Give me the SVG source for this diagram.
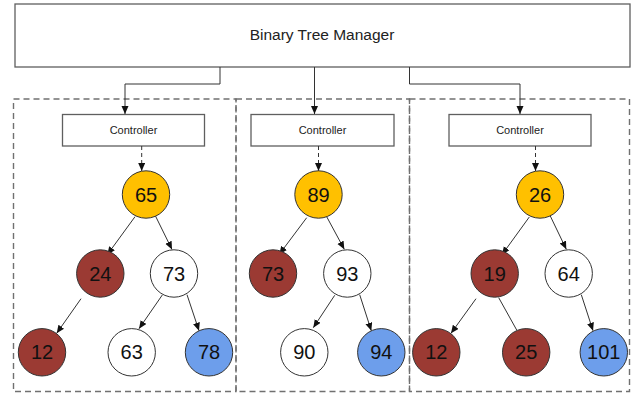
<svg xmlns="http://www.w3.org/2000/svg" width="632" height="396" viewBox="0 0 632 396">
<defs>
<style>
.box{fill:#fff;stroke:#5f5f5f;stroke-width:1.3}
.dash{fill:none;stroke:#707070;stroke-width:1.4;stroke-dasharray:6,4}
.t{font-family:"Liberation Sans",Arial,sans-serif;fill:#222;text-anchor:middle}
.ctl{font-size:11px}
.num{font-size:20px;fill:#111}
.n{stroke:#333;stroke-width:1}
.y{fill:#ffc000}
.r{fill:#9b3a33}
.w{fill:#fff}
.b{fill:#6d9eeb}
.e{stroke:#333;stroke-width:1;fill:none}
.ed{stroke:#333;stroke-width:1;fill:none;stroke-dasharray:4,3}
</style>
<marker id="ah" markerUnits="userSpaceOnUse" markerWidth="9" markerHeight="8" refX="8" refY="3.5" orient="auto">
<path d="M0,0 L8,3.5 L0,7 z" fill="#111"/>
</marker>
</defs>
<rect width="632" height="396" fill="#fff"/>
<g id="containers">
<rect class="dash" x="13.5" y="99" width="222.5" height="292.5"/>
<rect class="dash" x="236" y="99" width="173.5" height="292.5"/>
<rect class="dash" x="409.5" y="99" width="220" height="292.5"/>
</g>
<g id="manager">
<rect class="box" x="15" y="4" width="615" height="63"/>
<text class="t" x="322" y="39.5" style="font-size:15.5px">Binary Tree Manager</text>
</g>
<g id="controller1">
<rect class="box" x="62.5" y="114.5" width="142" height="31.5"/>
<text class="t ctl" x="133.5" y="134">Controller</text>
</g>
<g id="controller2">
<rect class="box" x="251" y="114.5" width="143" height="31.5"/>
<text class="t ctl" x="322.5" y="134">Controller</text>
</g>
<g id="controller3">
<rect class="box" x="449" y="114.5" width="142" height="31.5"/>
<text class="t ctl" x="520" y="134">Controller</text>
</g>
<g id="connectors">
<path class="e" d="M220,67 V84 H125 V114" marker-end="url(#ah)"/>
<path class="e" d="M314.5,67 V114" marker-end="url(#ah)"/>
<path class="e" d="M409.5,67 V84 H520 V114" marker-end="url(#ah)"/>
<path class="ed" d="M141.7,146 V171" marker-end="url(#ah)"/>
<path class="ed" d="M318.5,146 V171" marker-end="url(#ah)"/>
<path class="ed" d="M535.5,146 V171" marker-end="url(#ah)"/>
<line class="e" x1="135" y1="216.7" x2="107.3" y2="254.7" marker-end="url(#ah)"/>
<line class="e" x1="154" y1="213" x2="172" y2="249.5" marker-end="url(#ah)"/>
<line class="e" x1="81" y1="298.7" x2="56.7" y2="333.3" marker-end="url(#ah)"/>
<line class="e" x1="162.3" y1="295" x2="139" y2="328.7" marker-end="url(#ah)"/>
<line class="e" x1="187" y1="294.7" x2="199" y2="330.7" marker-end="url(#ah)"/>
<line class="e" x1="306.7" y1="217.7" x2="279.3" y2="254.3" marker-end="url(#ah)"/>
<line class="e" x1="326.3" y1="216" x2="344.3" y2="249.3" marker-end="url(#ah)"/>
<line class="e" x1="334.7" y1="295.3" x2="313.3" y2="327.7" marker-end="url(#ah)"/>
<line class="e" x1="359.7" y1="294.7" x2="371.3" y2="330.7" marker-end="url(#ah)"/>
<line class="e" x1="529.3" y1="217" x2="502" y2="254.7" marker-end="url(#ah)"/>
<line class="e" x1="548.7" y1="212.7" x2="566.3" y2="249.3" marker-end="url(#ah)"/>
<line class="e" x1="476" y1="298.7" x2="451" y2="333.3" marker-end="url(#ah)"/>
<line class="e" x1="498.7" y1="297.7" x2="516.7" y2="330"/>
<line class="e" x1="581.3" y1="294.7" x2="593" y2="330.7" marker-end="url(#ah)"/>
</g>
<g id="n65"><circle class="n y" cx="146" cy="194.5" r="23.7"/><text class="t num" x="146" y="201.5">65</text></g>
<g id="n24"><circle class="n r" cx="100.3" cy="273.5" r="23.7"/><text class="t num" x="100.3" y="280.5">24</text></g>
<g id="n73a"><circle class="n w" cx="174" cy="273.5" r="23.7"/><text class="t num" x="174" y="280.5">73</text></g>
<g id="n12a"><circle class="n r" cx="42" cy="352.3" r="23.7"/><text class="t num" x="42" y="359.3">12</text></g>
<g id="n63"><circle class="n w" cx="131.7" cy="352.3" r="23.7"/><text class="t num" x="131.7" y="359.3">63</text></g>
<g id="n78"><circle class="n b" cx="209" cy="352.3" r="23.7"/><text class="t num" x="209" y="359.3">78</text></g>
<g id="n89"><circle class="n y" cx="318.5" cy="194.5" r="23.7"/><text class="t num" x="318.5" y="201.5">89</text></g>
<g id="n73b"><circle class="n r" cx="273" cy="273.5" r="23.7"/><text class="t num" x="273" y="280.5">73</text></g>
<g id="n93"><circle class="n w" cx="347.3" cy="273.5" r="23.7"/><text class="t num" x="347.3" y="280.5">93</text></g>
<g id="n90"><circle class="n w" cx="304.3" cy="352.3" r="23.7"/><text class="t num" x="304.3" y="359.3">90</text></g>
<g id="n94"><circle class="n b" cx="381.3" cy="352.3" r="23.7"/><text class="t num" x="381.3" y="359.3">94</text></g>
<g id="n26"><circle class="n y" cx="540" cy="194.5" r="23.7"/><text class="t num" x="540" y="201.5">26</text></g>
<g id="n19"><circle class="n r" cx="494.7" cy="273.5" r="23.7"/><text class="t num" x="494.7" y="280.5">19</text></g>
<g id="n64"><circle class="n w" cx="568.7" cy="273.5" r="23.7"/><text class="t num" x="568.7" y="280.5">64</text></g>
<g id="n12b"><circle class="n r" cx="436.3" cy="352.3" r="23.7"/><text class="t num" x="436.3" y="359.3">12</text></g>
<g id="n25"><circle class="n r" cx="526.2" cy="352.3" r="23.7"/><text class="t num" x="526.2" y="359.3">25</text></g>
<g id="n101"><circle class="n b" cx="603.8" cy="352.3" r="23.7"/><text class="t num" x="603.8" y="359.3">101</text></g>
</svg>
